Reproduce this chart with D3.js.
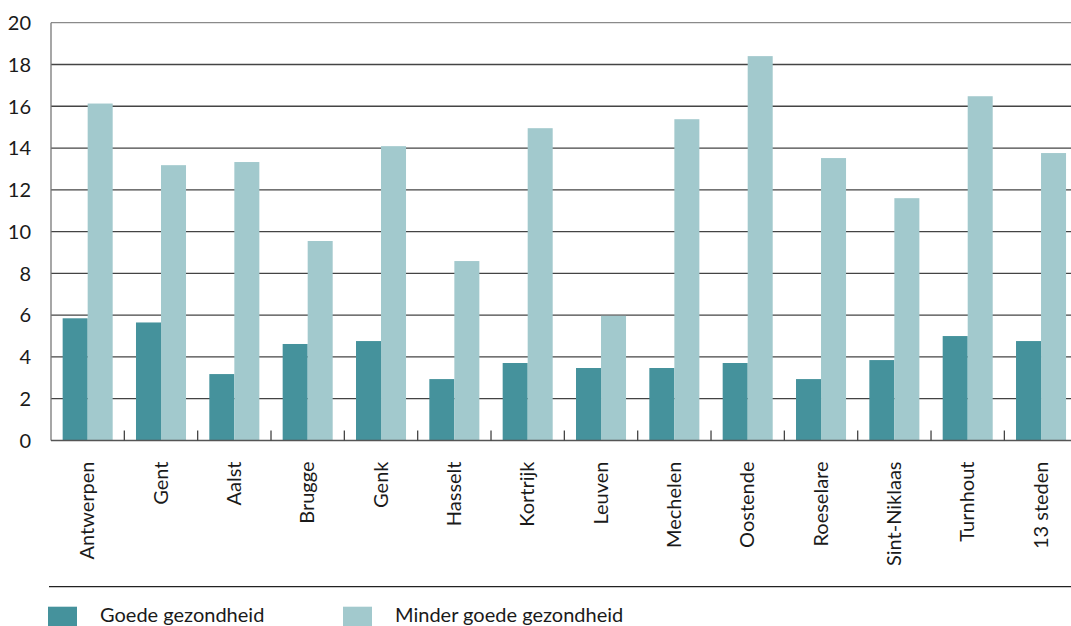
<!DOCTYPE html>
<html><head><meta charset="utf-8">
<script src="https://cdn.jsdelivr.net/npm/d3@7"></script>
<style>body{margin:0;background:#fff}svg{display:block}text{font-family:Lato,"Open Sans",sans-serif;fill:#1a1a1a}</style>
</head><body><svg id="c" width="1071" height="626"></svg>
<script>
const categories = ["Antwerpen","Gent","Aalst","Brugge","Genk","Hasselt","Kortrijk","Leuven","Mechelen","Oostende","Roeselare","Sint-Niklaas","Turnhout","13 steden"];
const goede = [5.85,5.65,3.18,4.62,4.76,2.94,3.71,3.47,3.47,3.71,2.94,3.85,5.0,4.76];
const minder = [16.13,13.18,13.33,9.55,14.09,8.59,14.95,5.97,15.38,18.4,13.52,11.6,16.48,13.76];
const seriesNames = ["Goede gezondheid","Minder goede gezondheid"];
const colors = ["#45929c","#a2c9cd"];
const yTicks = [0,2,4,6,8,10,12,14,16,18,20];

const svg = d3.select("#c");
const mLeft = 51, mRight = 1077.7, mTop = 22.7, mBottom = 440.5;
const x = d3.scaleBand().domain(categories).range([mLeft,mRight]).paddingInner(0).paddingOuter(0);
const xs = d3.scaleBand().domain([0,1]).range([0,x.bandwidth()]).paddingOuter(0.466).paddingInner(0);
const y = d3.scaleLinear().domain([0,20]).range([mBottom,mTop]);

// gridlines
svg.append("g").selectAll("line").data(yTicks.filter(d=>d>0)).join("line")
  .attr("x1",mLeft).attr("x2",1071).attr("y1",d=>y(d)).attr("y2",d=>y(d))
  .attr("stroke",d=>d===20?"#8a8a8a":"#444").attr("stroke-width",1.3);

// y axis labels
const yAxis = d3.axisLeft(y).tickValues(yTicks).tickSize(0).tickPadding(20);
const yg = svg.append("g").attr("transform",`translate(${mLeft},0)`).call(yAxis);
yg.select(".domain").remove();
yg.selectAll("text").style("font-size","20px").style("font-family","Lato,'Open Sans',sans-serif").attr("fill","#1a1a1a").attr("dy","0.34em");

// bars
const data = categories.map((c,i)=>({c,vals:[goede[i],minder[i]]}));
const grp = svg.append("g").selectAll("g").data(data).join("g").attr("transform",d=>`translate(${x(d.c)},0)`);
grp.selectAll("rect").data(d=>d.vals.map((v,k)=>({v,k}))).join("rect")
  .attr("x",d=>xs(d.k)).attr("width",xs.bandwidth())
  .attr("y",d=>y(d.v)).attr("height",d=>y(0)-y(d.v)).attr("fill",d=>colors[d.k]);

// vertical y-axis line
svg.append("line").attr("x1",mLeft).attr("x2",mLeft).attr("y1",mTop).attr("y2",mBottom).attr("stroke","#777").attr("stroke-width",1.3);
// baseline
svg.append("line").attr("x1",mLeft).attr("x2",1071).attr("y1",mBottom).attr("y2",mBottom).attr("stroke","#555").attr("stroke-width",1.3);
// band separators ticks
svg.append("g").selectAll("line").data(categories.slice(1)).join("line")
  .attr("x1",d=>x(d)).attr("x2",d=>x(d)).attr("y1",mBottom-10).attr("y2",mBottom)
  .attr("stroke","#444").attr("stroke-width",1.3);

// x labels
svg.append("g").selectAll("text").data(categories).join("text")
  .attr("transform",d=>`translate(${x(d)+x.bandwidth()/2+6.5},${mBottom+21}) rotate(-90)`)
  .attr("text-anchor","end").style("font-size","20px").text(d=>d);

// separator line
svg.append("line").attr("x1",49).attr("x2",1071).attr("y1",586.7).attr("y2",586.7).attr("stroke","#222").attr("stroke-width",1.3);

// legend
const legX = [48,343];
seriesNames.forEach((n,i)=>{
  svg.append("rect").attr("x",legX[i]).attr("y",606.7).attr("width",29).attr("height",20).attr("fill",colors[i]);
  svg.append("text").attr("x",legX[i]+52).attr("y",621.5).style("font-size","20px").text(n);
});
</script></body></html>
